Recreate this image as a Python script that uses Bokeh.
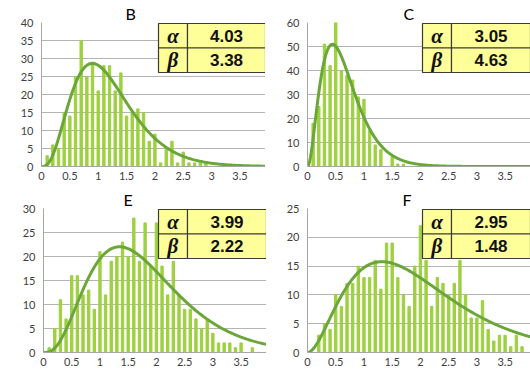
import math
import numpy as np
from bokeh.plotting import figure
from bokeh.models import FixedTicker
from bokeh.layouts import column, row
from bokeh.core.properties import value
from bokeh.embed import file_html
from bokeh.resources import INLINE

# ---------------- data ----------------
x_bins = [0.1, 0.2, 0.3, 0.4, 0.5, 0.6, 0.7, 0.8, 0.9, 1.0,
          1.1, 1.2, 1.3, 1.4, 1.5, 1.6, 1.7, 1.8, 1.9, 2.0,
          2.1, 2.2, 2.3, 2.4, 2.5, 2.6, 2.7, 2.8, 2.9, 3.0,
          3.1, 3.2, 3.3, 3.4, 3.5, 3.6, 3.7, 3.8, 3.9]

counts_B = [3, 6, 5, 15, 14, 25, 35, 25, 29, 21,
            28, 28, 21, 26, 14, 15, 16, 15, 7, 9,
            1, 5, 7, 1, 4, 1, 1, 1, 1, 0,
            0, 0, 0, 0, 0, 0, 0, 0, 0]
counts_C = [18, 25, 51, 42, 60, 40, 38, 36, 29, 28,
            15, 9, 7, 0, 4, 1, 1, 0, 0, 0,
            0, 0, 0, 0, 0, 0, 0, 0, 0, 0,
            0, 0, 0, 0, 0, 0, 0, 0, 0]
counts_E = [1, 5, 11, 7, 16, 16, 12, 13, 9, 21,
            12, 19, 20, 23, 20, 28, 19, 27, 18, 27,
            18, 12, 19, 12, 9, 9, 7, 5, 7, 4,
            2, 2, 2, 1, 2, 0, 1, 0, 0]
counts_F = [0, 3, 5, 4, 10, 8, 12, 12, 15, 13,
            13, 16, 11, 19, 19, 13, 10, 8, 15, 22,
            16, 8, 13, 12, 10, 12, 16, 10, 6, 6,
            9, 4, 2, 3, 3, 1, 3, 1, 0]

panel_names = ["B", "C", "E", "F"]
alphas = [4.03, 3.05, 3.99, 2.95]
betas = [3.38, 4.63, 2.22, 1.48]
alpha_labels = ["4.03", "3.05", "3.99", "2.95"]
beta_labels = ["3.38", "4.63", "2.22", "1.48"]
sample_sizes = [380, 411, 442, 389]
bin_width = 0.1

y_ticks_B = [0, 5, 10, 15, 20, 25, 30, 35, 40]
y_ticks_C = [0, 10, 20, 30, 40, 50, 60]
y_ticks_E = [0, 5, 10, 15, 20, 25, 30]
y_ticks_F = [0, 5, 10, 15, 20, 25]

x_ticks = [0, 0.5, 1, 1.5, 2, 2.5, 3, 3.5]
x_tick_labels = ["0", "0.5", "1", "1.5", "2", "2.5", "3", "3.5"]

# ---------------- style ----------------
BAR = "#9ED040"
CURVE = "#6AA638"
GRID = "#B4B4B4"
AXIS = "#A6A6A6"
TICK_TXT = "#404040"
FONT = "Lato"
X_MAX = 3.95
FRAME_H = 144


def gamma_curve(a, b, n, xs):
    out = []
    for x in xs:
        if x <= 0:
            out.append(0.0)
        else:
            lf = a * math.log(b) + (a - 1) * math.log(x) - b * x - math.lgamma(a)
            out.append(n * bin_width * math.exp(lf))
    return out


def make_panel(idx, counts, y_ticks, width, height, bl, bt, bb, title_px, tbl_px):
    ymax = y_ticks[-1]
    frame_w = width - bl
    p = figure(width=width, height=height, x_range=(0, X_MAX), y_range=(0, ymax),
               output_backend="svg", toolbar_location=None,
               min_border_left=bl, min_border_right=0,
               min_border_top=bt, min_border_bottom=bb)
    p.outline_line_color = None
    p.background_fill_color = "white"
    p.border_fill_color = "white"
    p.xgrid.grid_line_color = None
    p.ygrid.grid_line_color = GRID
    p.ygrid.grid_line_width = 1

    p.title.text = panel_names[idx]
    p.title.align = "left"
    p.title.offset = title_px - 5
    p.title.standoff = 0
    p.title.text_font = FONT
    p.title.text_font_size = "16px"
    p.title.text_font_style = "normal"
    p.title.text_color = "black"

    p.yaxis.ticker = FixedTicker(ticks=y_ticks)
    p.xaxis.ticker = FixedTicker(ticks=x_ticks)
    p.xaxis.major_label_overrides = {t: l for t, l in zip(x_ticks, x_tick_labels)}
    for ax in (p.xaxis, p.yaxis):
        ax.axis_line_color = AXIS
        ax.major_tick_line_color = None
        ax.minor_tick_line_color = None
        ax.major_tick_out = 0
        ax.major_tick_in = 0
        ax.major_label_text_font = FONT
        ax.major_label_text_font_size = "11px"
        ax.major_label_text_color = TICK_TXT
    p.yaxis.major_label_standoff = 8
    p.xaxis.major_label_standoff = 5

    p.vbar(x=x_bins, top=counts, width=0.042, bottom=0, color=BAR)

    xs = np.linspace(0, X_MAX, 240)
    ys = gamma_curve(alphas[idx], betas[idx], sample_sizes[idx], xs)
    p.line(xs, ys, line_color=CURVE, line_width=3)

    # table (positioned in pixels relative to frame, converted to data units)
    dx = X_MAX / frame_w
    dy = ymax / FRAME_H
    left = tbl_px * dx
    split = (tbl_px + 29) * dx
    right = X_MAX
    top = ymax - 1 * dy
    mid = ymax - 25.5 * dy
    bottom = ymax - 50 * dy
    p.quad(left=[left, split, left, split], right=[split, right, split, right],
           top=[top, top, mid, mid], bottom=[mid, mid, bottom, bottom],
           fill_color="#FFFF99", line_color="#3A3A3A", line_width=1.2)
    ry1 = (top + mid) / 2
    ry2 = (mid + bottom) / 2
    p.text(x=[(left + split) / 2] * 2, y=[ry1, ry2], text=["α", "β"],
           text_font=value("Liberation Serif"), text_font_style="bold italic",
           text_font_size="21px", text_align="center", text_baseline="middle",
           text_color="#111111")
    p.text(x=[(split + right) / 2] * 2, y=[ry1, ry2],
           text=[alpha_labels[idx], beta_labels[idx]],
           text_font=value("Liberation Sans"), text_font_style="bold",
           text_font_size="17px", text_align="center", text_baseline="middle",
           text_color="#111111")
    return p


pB = make_panel(0, counts_B, y_ticks_B, 265, 186, 41, 22, 20, 89, 117)
pC = make_panel(1, counts_C, y_ticks_C, 265, 186, 42, 22, 20, 101, 115)
pE = make_panel(2, counts_E, y_ticks_E, 266, 187, 43, 22, 21, 85, 115)
pF = make_panel(3, counts_F, y_ticks_F, 264, 187, 41, 22, 21, 100, 115)

layout = column(row(pB, pC), row(pE, pF))
open("out.html", "w").write(file_html(layout, INLINE))
